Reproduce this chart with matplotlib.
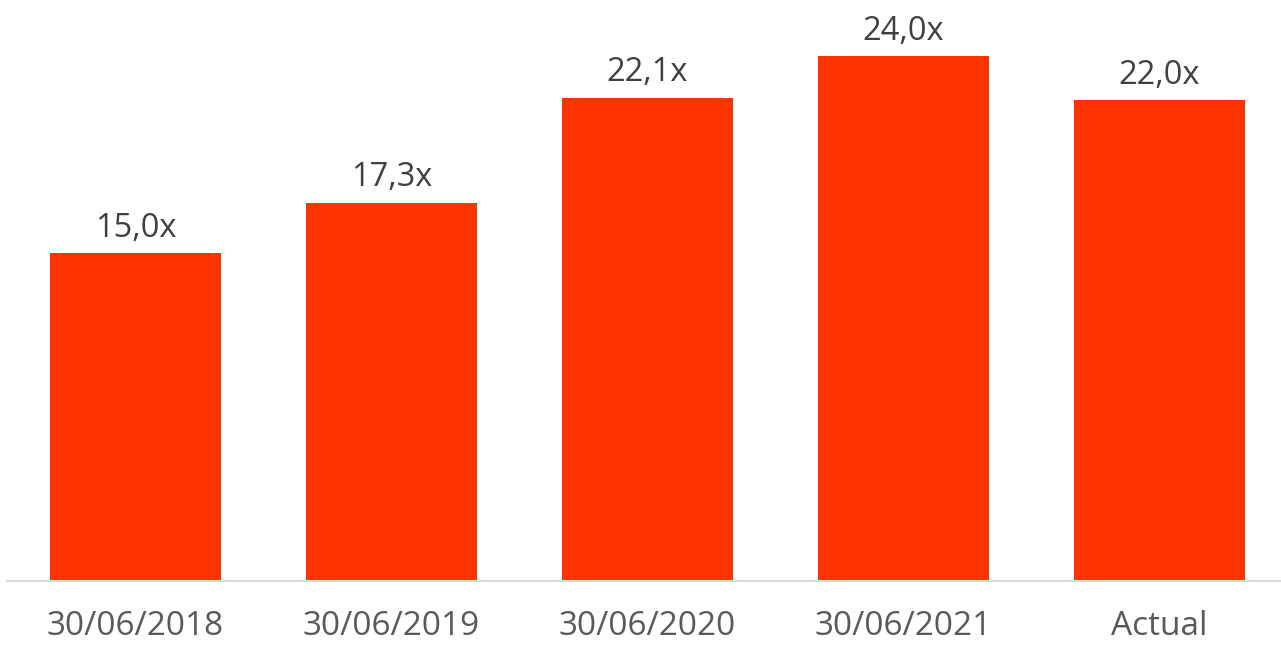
import matplotlib
matplotlib.use("Agg")
import matplotlib.pyplot as plt

categories = ["30/06/2018", "30/06/2019", "30/06/2020", "30/06/2021", "Actual"]
values = [15.0, 17.3, 22.1, 24.0, 22.0]
labels = ["15,0x", "17,3x", "22,1x", "24,0x", "22,0x"]

W, H = 1281, 646
fig = plt.figure(figsize=(W / 100, H / 100), dpi=100)
left_px, right_px, base_px = 7, 1281, 581
ax = fig.add_axes([left_px / W, (H - base_px) / H, (right_px - left_px) / W, base_px / H])

x = list(range(len(categories)))
ax.bar(x, values, width=0.666, color="#FF3300", zorder=2)
ax.set_xlim(-0.502, -0.502 + (right_px - left_px) / 256)
ax.set_ylim(0, base_px / 21.87)

font = "Open Sans"
for xi, v, lab in zip(x, values, labels):
    ax.annotate(lab, (xi, v), xytext=(0, 6), textcoords="offset points",
                ha="center", va="bottom", fontsize=23.5, color="#404040", family=font)

ax.set_xticks(x)
ax.set_xticklabels(categories, fontsize=24, color="#595959", family=font)
ax.tick_params(axis="x", length=0, pad=21)
ax.set_yticks([])
for s in ["top", "right", "left"]:
    ax.spines[s].set_visible(False)
ax.spines["bottom"].set_color("#D9D9D9")
ax.spines["bottom"].set_linewidth(1.5)
ax.set_facecolor("none")

fig.savefig("out.png", dpi=100)
